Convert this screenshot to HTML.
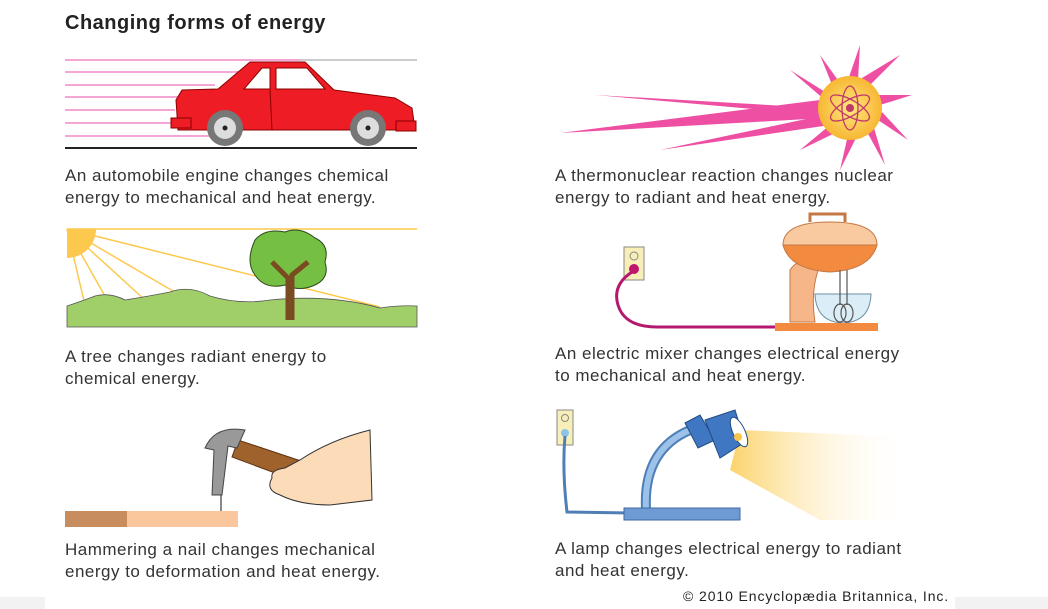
<!DOCTYPE html>
<html><head><meta charset="utf-8"><style>
html,body{margin:0;padding:0;background:#fff;width:1048px;height:609px;overflow:hidden}
svg{display:block}
text{font-family:"Liberation Sans",Arial,sans-serif;fill:#333;font-size:17px;letter-spacing:0.5px}
</style></head><body>
<svg width="1048" height="609" viewBox="0 0 1048 609">
<defs>
<linearGradient id="beam" x1="0" x2="1" y1="0" y2="0"><stop offset="0" stop-color="#fcd36a"/><stop offset="1" stop-color="#fff" stop-opacity="0"/></linearGradient>
<radialGradient id="sun" cx="0.5" cy="0.5" r="0.5"><stop offset="0" stop-color="#ffe680"/><stop offset="1" stop-color="#f7b733"/></radialGradient>
</defs>
<rect x="0" y="597" width="1048" height="12" fill="#f2f2f2"/>
<rect x="45" y="0" width="910" height="609" fill="#fff"/>
<text x="65" y="29" style="font-size:20px;font-weight:bold;fill:#222">Changing forms of energy</text>

<!-- car -->
<g stroke="#f4a6d7" stroke-width="2">
<line x1="65" y1="60" x2="300" y2="60"/><line x1="65" y1="72" x2="240" y2="72"/><line x1="65" y1="85" x2="215" y2="85"/><line x1="65" y1="97" x2="185" y2="97"/><line x1="65" y1="110" x2="175" y2="110"/><line x1="65" y1="123" x2="200" y2="123"/><line x1="65" y1="136" x2="210" y2="136"/>
</g>
<line x1="300" y1="60" x2="417" y2="60" stroke="#999" stroke-width="1"/>
<line x1="65" y1="148" x2="417" y2="148" stroke="#222" stroke-width="2"/>
<path d="M182 90 L218 89 L250 62 L305 62 L334 90 L395 98 L412 108 L414 122 L408 130 L178 130 L176 100 Z" fill="#ee1c25" stroke="#8b0000" stroke-width="1"/>
<rect x="171" y="118" width="20" height="10" fill="#ee1c25" stroke="#8b0000"/>
<rect x="396" y="121" width="20" height="10" fill="#ee1c25" stroke="#8b0000"/>
<path d="M244 89 L262 68 L270 68 L270 89 Z" fill="#fff" stroke="#8b0000"/>
<path d="M276 68 L307 68 L325 89 L276 89 Z" fill="#fff" stroke="#8b0000"/>
<line x1="270" y1="89" x2="272" y2="130" stroke="#8b0000"/>
<g><circle cx="225" cy="128" r="18" fill="#777"/><circle cx="225" cy="128" r="11" fill="#ddd"/><circle cx="225" cy="128" r="2.5" fill="#222"/>
<circle cx="368" cy="128" r="18" fill="#777"/><circle cx="368" cy="128" r="11" fill="#ddd"/><circle cx="368" cy="128" r="2.5" fill="#222"/></g>
<text x="65" y="181">An automobile engine changes chemical</text>
<text x="65" y="203">energy to mechanical and heat energy.</text>

<!-- sun -->
<g fill="#ee4fa3">
<polygon points="560,133 820,100 825,118"/>
<polygon points="595,95 822,108 820,115"/>
<polygon points="660,150 825,115 830,125"/>
<polygon points="820,55 845,90 835,92"/><polygon points="860,45 858,80 848,80"/><polygon points="900,55 870,85 862,78"/><polygon points="912,95 880,105 878,95"/><polygon points="908,140 878,120 882,112"/><polygon points="885,165 866,130 874,128"/><polygon points="840,170 848,135 856,138"/><polygon points="800,150 830,125 835,133"/><polygon points="790,70 830,95 825,100"/>
</g>
<circle cx="850" cy="108" r="32" fill="url(#sun)"/>
<g fill="none" stroke="#c0396b" stroke-width="1.3"><ellipse cx="850" cy="108" rx="22" ry="8" transform="rotate(30 850 108)"/><ellipse cx="850" cy="108" rx="22" ry="8" transform="rotate(-30 850 108)"/><ellipse cx="850" cy="108" rx="22" ry="8" transform="rotate(90 850 108)"/></g>
<circle cx="850" cy="108" r="4" fill="#c0396b"/>
<text x="555" y="181">A thermonuclear reaction changes nuclear</text>
<text x="555" y="203">energy to radiant and heat energy.</text>

<!-- tree scene -->
<line x1="67" y1="229" x2="417" y2="229" stroke="#fcc94e" stroke-width="1.5"/>
<g stroke="#fcc94e" stroke-width="1.5">
<line x1="67" y1="229" x2="85" y2="305"/><line x1="67" y1="229" x2="110" y2="305"/><line x1="67" y1="229" x2="145" y2="300"/><line x1="67" y1="229" x2="178" y2="294"/><line x1="67" y1="229" x2="380" y2="307"/>
</g>
<path d="M67 229 L96 229 A29 29 0 0 1 67 258 Z" fill="#fcc94e"/>
<path d="M67 306 Q85 300 95 296 Q110 292 125 300 Q150 296 170 292 Q190 285 210 296 Q240 305 270 300 Q330 294 380 308 Q400 305 417 306 L417 327 L67 327 Z" fill="#a0cf6a" stroke="#555" stroke-width="0.8"/>
<path d="M255 240 Q265 228 285 232 Q300 226 315 238 Q330 245 325 262 Q330 278 315 285 Q300 292 285 285 Q265 290 255 275 Q245 262 255 240 Z" fill="#75c043" stroke="#2c4a1a" stroke-width="1"/>
<path d="M288 320 L288 278 L272 262 M292 320 L292 275 L308 262" stroke="#7a4a20" stroke-width="5" fill="none"/>
<text x="65" y="362">A tree changes radiant energy to</text>
<text x="65" y="384">chemical energy.</text>

<!-- mixer -->
<rect x="624" y="247" width="20" height="33" fill="#f8efb8" stroke="#888"/>
<circle cx="634" cy="256" r="4" fill="none" stroke="#888"/>
<circle cx="634" cy="269" r="5" fill="#c0166e"/>
<path d="M632 272 Q612 285 618 305 Q625 328 660 327 L780 327" fill="none" stroke="#b5186f" stroke-width="3"/>
<path d="M790 322 L790 270 Q800 255 820 265 Q810 290 815 322 Z" fill="#f7b58a" stroke="#c57845"/>
<path d="M783 245 Q783 222 830 222 Q877 222 877 245 Z" fill="#f9c9a0" stroke="#c57845"/>
<path d="M783 245 L877 245 Q870 270 830 272 Q790 270 783 245 Z" fill="#f28a3f" stroke="#c57845"/>
<path d="M810 222 L810 214 L845 214 L845 222" fill="none" stroke="#c57845" stroke-width="3"/>
<path d="M815 294 L871 294 Q870 322 843 323 Q816 322 815 294 Z" fill="#dbeef7" stroke="#6a8ea0"/>
<g fill="none" stroke="#555" stroke-width="1.2"><line x1="840" y1="270" x2="840" y2="305"/><line x1="847" y1="270" x2="847" y2="305"/><ellipse cx="840" cy="313" rx="6" ry="9"/><ellipse cx="847" cy="313" rx="6" ry="9"/></g>
<rect x="775" y="323" width="103" height="8" fill="#f28a3f"/>
<text x="555" y="359">An electric mixer changes electrical energy</text>
<text x="555" y="381">to mechanical and heat energy.</text>

<!-- hammer -->
<rect x="65" y="511" width="62" height="16" fill="#c88d5f"/>
<rect x="127" y="511" width="111" height="16" fill="#fac79c"/>
<line x1="221" y1="490" x2="221" y2="511" stroke="#888" stroke-width="2"/>
<path d="M232 457 L238 440 L352 478 L348 500 Z" fill="#a0622d" stroke="#5a3413"/>
<path d="M205 448 Q215 425 245 430 L237 448 L228 446 L222 495 L212 495 L214 450 Z" fill="#999" stroke="#444"/>
<path d="M300 460 Q330 440 370 430 L372 500 L330 505 Q300 505 280 495 Q265 490 272 478 Q270 470 285 468 Z" fill="#fcdcb8" stroke="#333"/>
<text x="65" y="555">Hammering a nail changes mechanical</text>
<text x="65" y="577">energy to deformation and heat energy.</text>

<!-- lamp -->
<polygon points="740,430 910,437 910,520 820,520 730,470" fill="url(#beam)"/>
<rect x="557" y="410" width="16" height="35" fill="#f8efb8" stroke="#888"/>
<circle cx="565" cy="418" r="3.5" fill="none" stroke="#888"/>
<circle cx="565" cy="433" r="4" fill="#8cc2ea"/>
<path d="M565 436 Q562 470 567 512 L630 513" fill="none" stroke="#4e7fb6" stroke-width="3"/>
<path d="M646 509 Q643 450 690 430" fill="none" stroke="#4e7fb6" stroke-width="10"/>
<path d="M646 509 Q643 450 690 430" fill="none" stroke="#9cc2ea" stroke-width="6"/>
<rect x="624" y="508" width="116" height="12" fill="#6e9bd4" stroke="#3d6aa5"/>
<path d="M685 423 L700 415 L715 440 L698 448 Z" fill="#3f77c2" stroke="#224b80"/>
<path d="M705 420 L735 410 L745 442 L720 458 Z" fill="#3f77c2" stroke="#224b80"/>
<ellipse cx="739" cy="432" rx="6" ry="16" transform="rotate(-25 739 432)" fill="#fff" stroke="#224b80"/>
<circle cx="738" cy="437" r="4" fill="#f7c74a"/>
<text x="555" y="554">A lamp changes electrical energy to radiant</text>
<text x="555" y="576">and heat energy.</text>

<text x="683" y="601" style="font-size:14px;fill:#222;letter-spacing:0.9px">© 2010 Encyclopædia Britannica, Inc.</text>
</svg>
</body></html>
